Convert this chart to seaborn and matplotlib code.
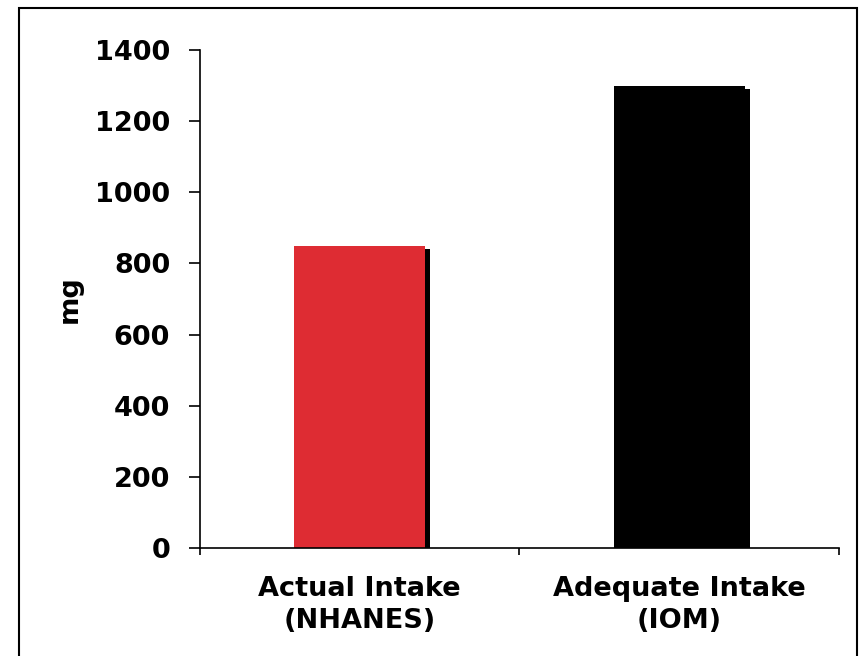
import matplotlib
matplotlib.use("Agg")
import matplotlib.pyplot as plt
import matplotlib.transforms as mtransforms
from matplotlib.patches import Rectangle
import seaborn as sns
import pandas as pd

categories = ["Actual Intake\n(NHANES)", "Adequate Intake\n(IOM)"]
values = [850, 1300]
colors = ["#DE2C33", "#000000"]
yticks = [0, 200, 400, 600, 800, 1000, 1200, 1400]

df = pd.DataFrame({"cat": categories, "val": values})

sns.set_style("white")
plt.rcParams["font.family"] = ["DejaVu Sans"]
plt.rcParams["text.color"] = "black"
plt.rcParams["axes.labelcolor"] = "black"
plt.rcParams["xtick.color"] = "black"
plt.rcParams["ytick.color"] = "black"

FS = 19.5

fig = plt.figure(figsize=(8.62, 6.56), dpi=100)
ax = fig.add_axes([200/862, 1-548/656, 639/862, 498/656])

sns.barplot(data=df, x="cat", y="val", hue="cat", palette=colors, width=0.41,
            ax=ax, saturation=1, legend=False, linewidth=0, zorder=2)

# drop shadows (offset 5 px right, 3 px down), derived from the seaborn bars
offset = mtransforms.ScaledTranslation(5/100, -3/100, fig.dpi_scale_trans)
for p in list(ax.patches):
    sh = Rectangle((p.get_x(), p.get_y()), p.get_width(), p.get_height(),
                   facecolor="black", edgecolor="none", zorder=1.5,
                   transform=ax.transData + offset)
    ax.add_patch(sh)

ax.set_ylim(0, 1400)
ax.set_xlim(-0.5, 1.5)
ax.set_yticks(yticks)
ax.set_yticklabels([str(t) for t in yticks], fontsize=FS, fontweight="bold")
ax.set_xticks([-0.5, 0.5, 1.5])
ax.set_xticklabels([])
ax.set_xticks([0, 1], minor=True)
ax.set_xticklabels(categories, minor=True, fontsize=FS, fontweight="bold",
                   linespacing=1.3)
ax.tick_params(axis="x", which="minor", length=0, pad=20, bottom=True)
ax.tick_params(axis="x", which="major", direction="out", length=5, width=1.2,
               bottom=True)
ax.tick_params(axis="y", direction="out", length=8, width=1.2, pad=13.5,
               left=True)
ax.set_xlabel("")
ax.set_ylabel("mg", fontsize=FS, fontweight="bold", labelpad=9)

for s in ["top", "right"]:
    ax.spines[s].set_visible(False)
for s in ["left", "bottom"]:
    ax.spines[s].set_color("black")
    ax.spines[s].set_linewidth(1.2)

# figure border
fig.patches.append(Rectangle((19/862, -0.05), (857-19)/862, 1.05 - 8/656,
                             transform=fig.transFigure, fill=False,
                             edgecolor="black", linewidth=1.5))

fig.savefig("out.png", dpi=100)
